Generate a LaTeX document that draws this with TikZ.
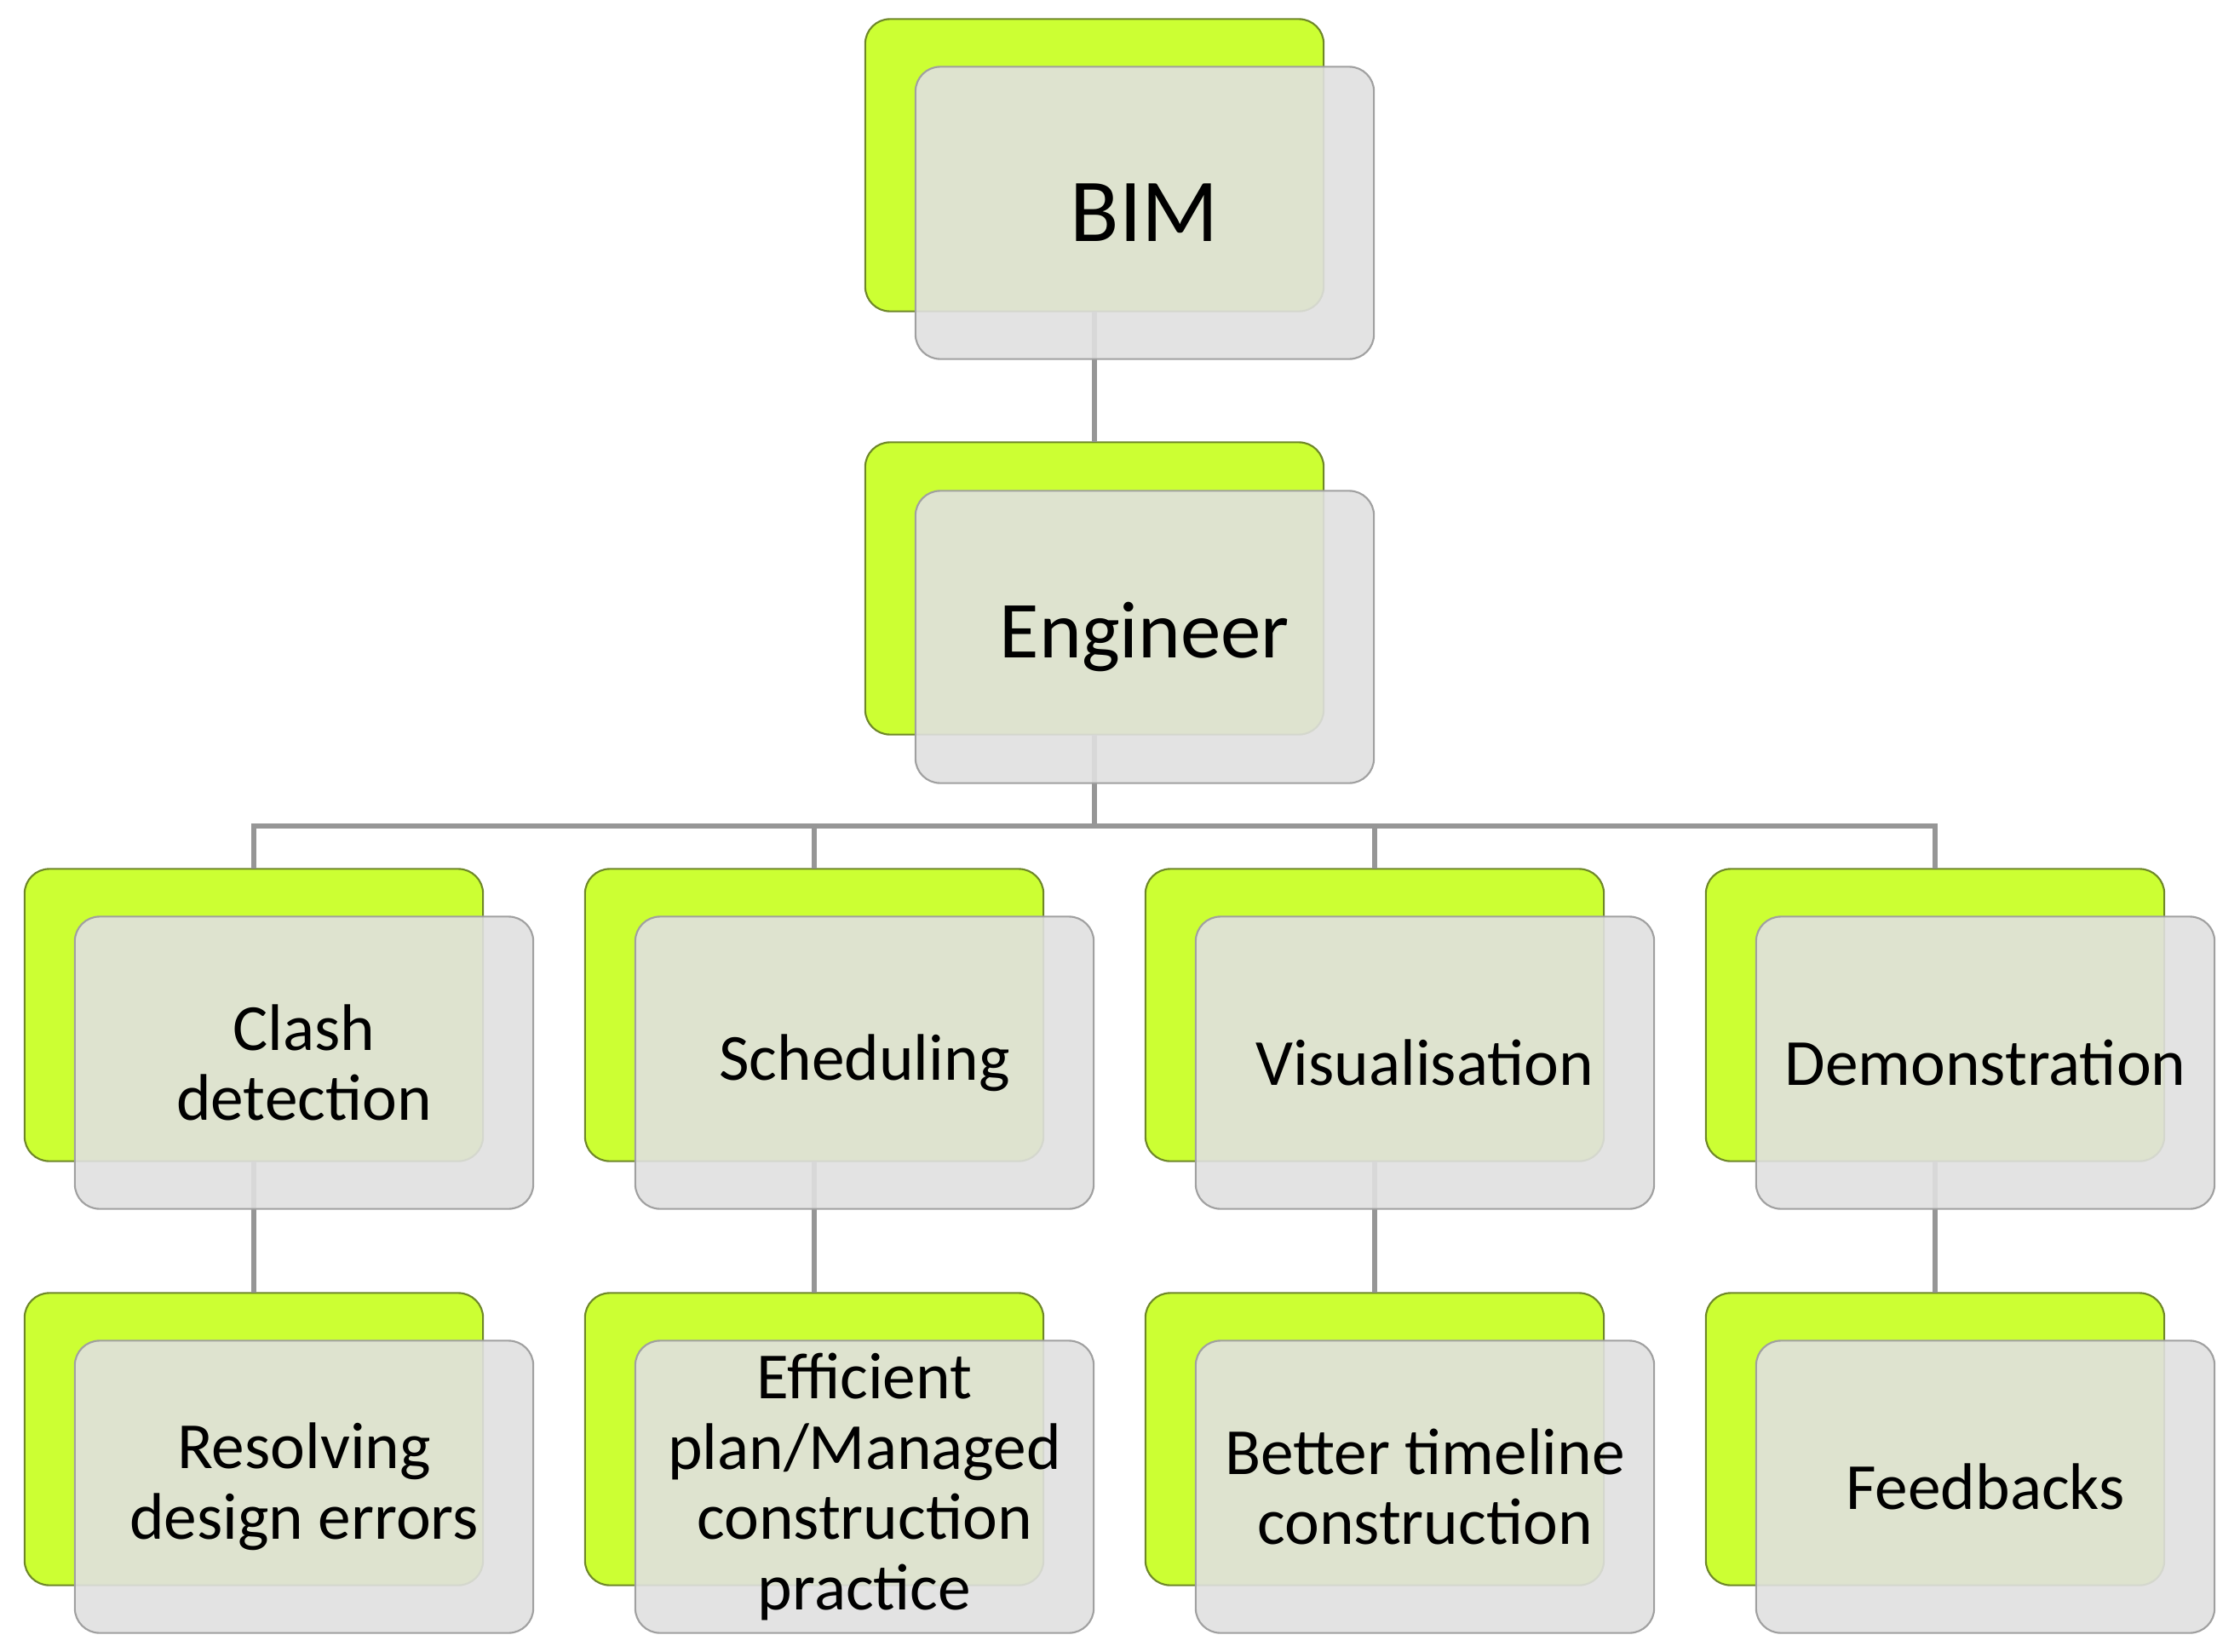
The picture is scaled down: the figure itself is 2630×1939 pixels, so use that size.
\documentclass[tikz,border=0pt]{standalone}
\usepackage{fontspec}
\setmainfont{Carlito}
\definecolor{limeg}{RGB}{204,255,51}
\definecolor{greenedge}{RGB}{110,135,40}
\definecolor{frontgray}{RGB}{224,224,224}
\definecolor{grayedge}{RGB}{160,160,160}
\definecolor{linkgray}{RGB}{150,150,150}
\tikzset{
  backbox/.style={draw=greenedge, fill=limeg, rounded corners=0.29cm,
    minimum width=5.38cm, minimum height=3.43cm, inner sep=0pt, outer sep=0pt, line width=0.6pt},
  frontbox/.style={draw=grayedge, fill=frontgray, fill opacity=0.9, text opacity=1,
    rounded corners=0.29cm, minimum width=5.38cm, minimum height=3.43cm,
    inner sep=0pt, outer sep=0pt, align=center, line width=0.6pt,
    font=\fontsize{22}{23.5}\selectfont},
  link/.style={draw=linkgray, line width=1.7pt}
}
\begin{document}
\begin{tikzpicture}[x=0.01cm, y=-0.01cm]
\useasboundingbox (0,0) rectangle (2630,1939);
% back (green) boxes
\node[backbox] (g0) at (1285,194) {};
\node[backbox] (g1) at (1285,691) {};
\node[backbox] (a1) at (298,1192) {};
\node[backbox] (a2) at (956,1192) {};
\node[backbox] (a3) at (1614,1192) {};
\node[backbox] (a4) at (2272,1192) {};
\node[backbox] (b1) at (298,1690) {};
\node[backbox] (b2) at (956,1690) {};
\node[backbox] (b3) at (1614,1690) {};
\node[backbox] (b4) at (2272,1690) {};
% connectors
\coordinate (bus) at (1285,970);
\draw[link] (g0.south) -- (g1.north);
\draw[link] (g1.south) -- (bus);
\draw[link] (a1.north) |- (bus);
\draw[link] (a2.north) |- (bus);
\draw[link] (a3.north) |- (bus);
\draw[link] (a4.north) |- (bus);
\draw[link] (a1.south) -- (b1.north);
\draw[link] (a2.south) -- (b2.north);
\draw[link] (a3.south) -- (b3.north);
\draw[link] (a4.south) -- (b4.north);
% front (gray) boxes with text
\node[frontbox, font=\fontsize{30}{34}\selectfont] (t0) at (1344,250) {BIM};
\node[frontbox, font=\fontsize{27}{31}\selectfont] (t1) at (1344,748) {Engineer};
\node[frontbox] (u1) at (357,1248) {Clash\\detection};
\node[frontbox] (u2) at (1015,1248) {Scheduling};
\node[frontbox] (u3) at (1673,1248) {Visualisation};
\node[frontbox] (u4) at (2331,1248) {Demonstration};
\node[frontbox] (v1) at (357,1746) {Resolving\\design errors};
\node[frontbox] (v2) at (1015,1746) {Efficient\\plan/Managed\\construction\\practice};
\node[frontbox] (v3) at (1673,1746) {Better timeline\\construction};
\node[frontbox] (v4) at (2331,1746) {Feedbacks};
\end{tikzpicture}
\end{document}
